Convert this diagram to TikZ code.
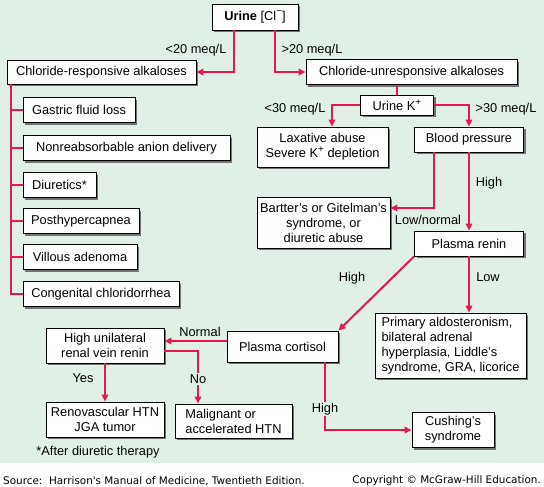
\documentclass[tikz,border=0pt]{standalone}
\usepackage{fontspec}
\setmainfont{Liberation Sans}
\newfontfamily\footfont{DejaVu Sans}
\usetikzlibrary{shadows,arrows.meta,calc}
\definecolor{bgc}{HTML}{E1F0E6}
\definecolor{rl}{HTML}{E5194E}
\newcommand{\supsign}[1]{\raisebox{0.42em}{\fontsize{10}{10}\selectfont #1}}
\begin{document}
\begin{tikzpicture}[x=1pt,y=-1pt,
  every node/.style={font=\fontsize{12.8}{15}\selectfont},
  box/.style={draw=black, line width=0.9pt, fill=white, inner sep=0pt, align=center,
    drop shadow={shadow xshift=2.2pt,shadow yshift=-2.2pt,fill=black!55,opacity=1}},
  conn/.style={draw=rl, line width=2pt},
  arr/.style={conn, -{Triangle[length=7pt,width=6.5pt]}},
  lbl/.style={inner sep=1pt},
  lblf/.style={inner sep=1.5pt, fill=bgc},
  foot/.style={font=\footfont\fontsize{10.4}{12}\selectfont, inner sep=0pt}
]
\fill[bgc] (0,0) rectangle (544,463);
\fill[white] (0,463) rectangle (544,487);
\useasboundingbox (0,0) rectangle (544,487);

% boxes
\node[box,minimum width=86pt,minimum height=26pt] (urine) at (255,17) {\textbf{Urine} [Cl\supsign{−}]};
\node[box,minimum width=189pt,minimum height=24pt] (cresp) at (101.5,72) {Chloride-responsive alkaloses};
\node[box,minimum width=211pt,minimum height=25pt] (cunresp) at (411.5,72) {Chloride-unresponsive alkaloses};
\node[box,minimum width=112pt,minimum height=25pt] (gastric) at (79,110) {Gastric fluid loss};
\node[box,minimum width=207pt,minimum height=25pt] (nonreab) at (126.5,148) {Nonreabsorbable anion delivery};
\node[box,minimum width=73pt,minimum height=25pt] (diur) at (59.5,185) {Diuretics*};
\node[box,minimum width=116pt,minimum height=25pt] (posthyp) at (81,221) {Posthypercapnea};
\node[box,minimum width=114pt,minimum height=25pt] (villous) at (80,257) {Villous adenoma};
\node[box,minimum width=156pt,minimum height=25pt] (congen) at (101,294) {Congenital chloridorrhea};
\node[box,minimum width=73pt,minimum height=20pt] (urineK) at (397,105) {Urine K\supsign{+}};
\node[box,minimum width=131pt,minimum height=40pt] (laxative) at (322.5,147) {Laxative abuse\\Severe K\supsign{+} depletion};
\node[box,minimum width=109pt,minimum height=25pt] (bp) at (469,139.5) {Blood pressure};
\node[box,minimum width=133pt,minimum height=51pt] (bartter) at (323.5,222.5) {Bartter’s or Gitelman’s\\syndrome, or\\diuretic abuse};
\node[box,minimum width=109pt,minimum height=25pt] (renin) at (469,243.5) {Plasma renin};
\node[box,minimum width=151pt,minimum height=65pt,align=left] (primary) at (450.5,345.5) {Primary aldosteronism,\\bilateral adrenal\\hyperplasia, Liddle’s\\syndrome, GRA, licorice};
\node[box,minimum width=111pt,minimum height=31pt] (cortisol) at (282.5,346.5) {Plasma cortisol};
\node[box,minimum width=118pt,minimum height=35pt] (hur) at (105,345.5) {High unilateral\\renal vein renin};
\node[box,minimum width=118pt,minimum height=35pt] (renovasc) at (105,419.5) {Renovascular HTN\\JGA tumor};
\node[box,minimum width=117pt,minimum height=34pt,align=left] (malig) at (233.5,421) {Malignant or\\accelerated HTN};
\node[box,minimum width=82pt,minimum height=35pt] (cushing) at (453,430) {Cushing’s\\syndrome};

% connectors
\draw[arr] ($(urine.south)+(-21,0)$) |- (cresp.east);
\draw[arr] ($(urine.south)+(20,0)$) |- (cunresp.west);
\draw[conn] ($(cresp.south west)+(4,0)$) |- (congen.west);
\foreach \n in {gastric,nonreab,diur,posthyp,villous} \draw[conn] (\n.west) -- ++(-12,0);
\draw[conn] (urineK.north) -- (urineK.north |- cunresp.south);
\draw[arr] (urineK.west) -| ($(laxative.north)+(9.5,0)$);
\draw[arr] (urineK.east) -| (bp.north);
\draw[arr] ($(bp.south)+(-35,0)$) |- ($(bartter.east)+(0,-14.5)$);
\draw[arr] (bp.south) -- (renin.north);
\draw[arr] (renin.south) -- (renin.south |- primary.north);
\draw[arr] (renin.south west) -- (cortisol.north east);
\coordinate (cw) at ($(cortisol.west)+(0,-5.5)$);
\draw[arr] (cw) -- (cw -| hur.east);
\coordinate (he) at ($(hur.east)+(0,5.5)$);
\draw[arr] (he) -| ($(malig.north)+(-35.5,0)$);
\draw[arr] (hur.south) -- (renovasc.north);
\draw[arr] ($(cortisol.south)+(42.5,0)$) |- (cushing.west);

% labels
\node[lbl] (l1) at (196,50) {<20 meq/L};
\node[lbl] (l2) at (312,50) {>20 meq/L};
\node[lbl] (l3) at (295,109) {<30 meq/L};
\node[lbl] (l4) at (506,109) {>30 meq/L};
\node[lbl] (l5) at (489,183) {High};
\node[lbl] (l6) at (428,220) {Low/normal};
\node[lbl] (l7) at (352,278) {High};
\node[lbl] (l8) at (488,277) {Low};
\node[lbl] (l9) at (200,332) {Normal};
\node[lbl] (l10) at (83,378) {Yes};
\node[lblf] (l11) at (198,379) {No};
\node[lblf] (l12) at (325,409) {High};
\node[lbl] (note) at (98,452) {*After diuretic therapy};

% footer
\node[foot,anchor=west] (src) at (3,481) {Source:\ \ Harrison's Manual of Medicine, Twentieth Edition.};
\node[foot,anchor=east] (copy) at (541,481) {Copyright © McGraw-Hill Education.};
\end{tikzpicture}
\end{document}
